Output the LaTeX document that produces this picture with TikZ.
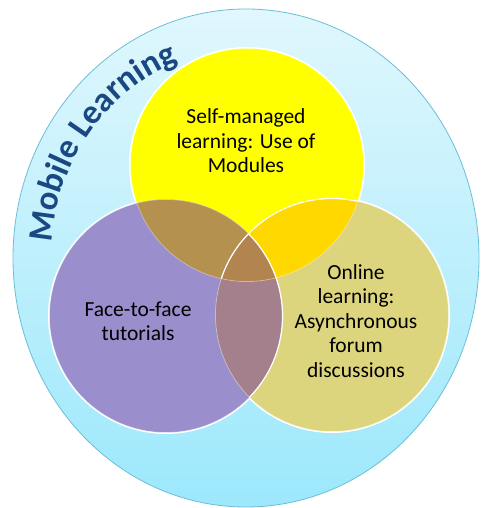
\documentclass[tikz,border=0pt]{standalone}
\usepackage{fontspec}
\setmainfont{Carlito}
\usetikzlibrary{positioning,decorations.text}
\definecolor{SkyTop}{RGB}{224,247,253}
\definecolor{SkyBottom}{RGB}{156,232,252}
\definecolor{SkyEdge}{RGB}{108,190,214}
\definecolor{Navy}{RGB}{25,72,130}
\definecolor{Lemon}{RGB}{255,255,0}
\definecolor{Lilac}{RGB}{154,143,204}
\definecolor{Olive}{RGB}{221,213,126}
\definecolor{Ochre}{RGB}{180,145,79}
\definecolor{Gold}{RGB}{255,216,0}
\definecolor{Mauve}{RGB}{164,128,140}
\definecolor{Umber}{RGB}{178,132,79}

\begin{document}
\begin{tikzpicture}[x=1pt,y=1pt,
    ring/.style={circle,inner sep=0pt,minimum size=233pt},
    tag/.style={align=center,font=\fontsize{21.5}{24.5}\selectfont,text=black},
    halo/.style={white,line width=3pt},
    seam/.style={white,opacity=0.35,line width=0.8pt}
]
\useasboundingbox (0,0) rectangle (480,508);

% Mobile learning background
\shadedraw[top color=SkyTop,bottom color=SkyBottom,draw=SkyEdge,line width=0.8pt]
    (246,250) ellipse [x radius=233,y radius=249];

% the three circles
\node[ring] (self) at (247,343) {};
\node[ring] (face) at (166,192) {};
\node[ring] (online) at (332,193) {};

\foreach \c in {self,face,online}
    \draw[halo] (\c.center) circle (116.5);
\fill[Lemon] (self.center) circle (116.5);
\fill[Lilac] (face.center) circle (116.5);
\fill[Olive] (online.center) circle (116.5);

% overlaps
\begin{scope}
    \clip (face.center) circle (116.5);
    \fill[Mauve] (online.center) circle (116.5);
\end{scope}
\begin{scope}
    \clip (self.center) circle (116.5);
    \fill[Ochre] (face.center) circle (116.5);
    \fill[Gold] (online.center) circle (116.5);
    \clip (face.center) circle (116.5);
    \fill[Umber] (online.center) circle (116.5);
\end{scope}

% seams between the circles
\foreach \c in {self,face,online}
    \draw[seam] (\c.center) circle (116.5);
\begin{scope}
    \clip (self.center) circle (116.5);
    \draw[white,line width=1.2pt] (online.center) circle (116.5);
\end{scope}
\begin{scope}
    \clip (online.center) circle (116.5);
    \draw[white,line width=1.2pt] (face.center) circle (116.5);
\end{scope}

% texts
\node[tag] (self-text) at (246,367) {Self-managed\\learning: Use of\\Modules};
\node[tag] (face-text) at (138,187) {Face-to-face\\tutorials};
\node[tag] (online-text) at (356,187) {Online\\learning:\\Asynchronous\\forum\\discussions};

% title along the rim
\path[decorate,decoration={text along path,text align=center,text color=Navy,
    text={|\fontsize{34.5}{34.5}\selectfont\bfseries|Mobile Learning}}]
    (246,250) ++(178:195 and 209) arc [start angle=178,end angle=108,x radius=195,y radius=209];

\end{tikzpicture}
\end{document}
